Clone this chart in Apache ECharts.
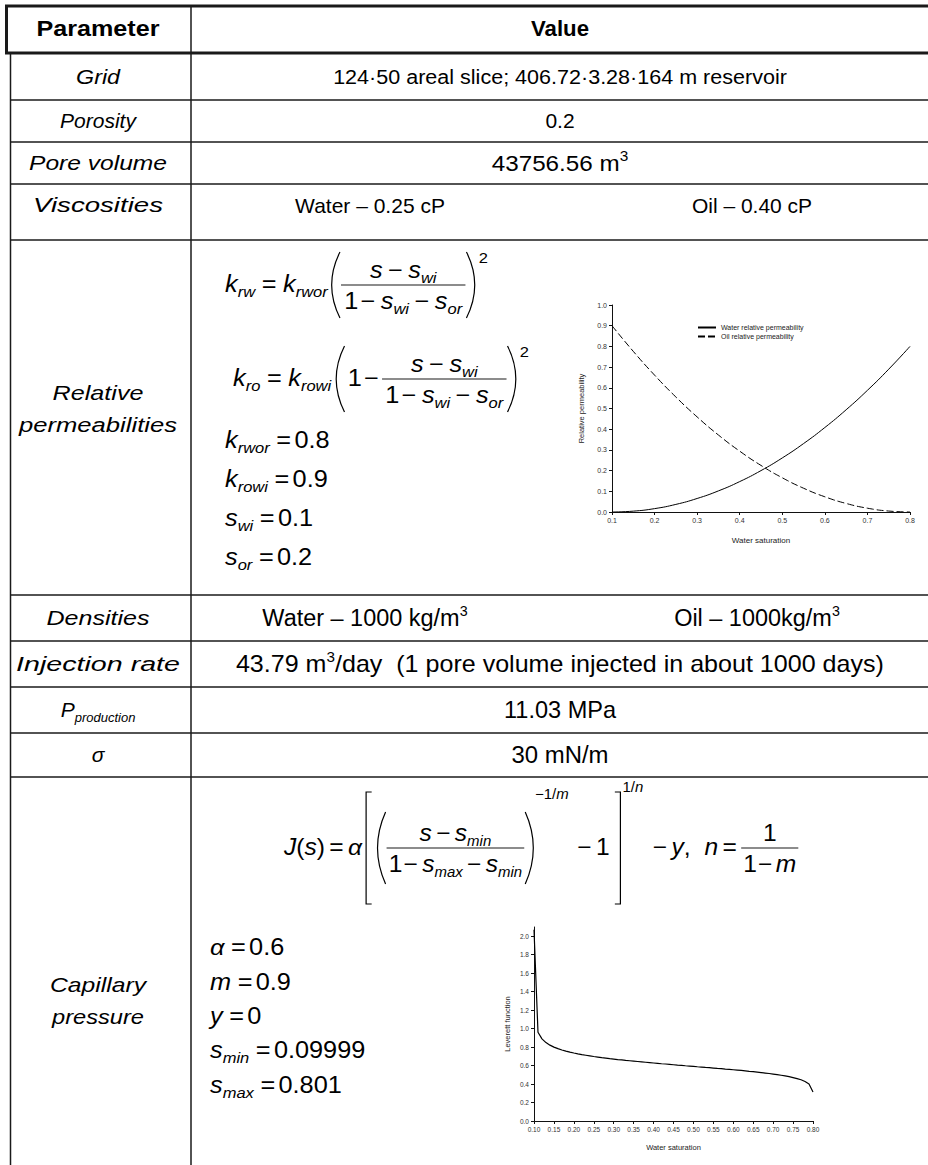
<!DOCTYPE html>
<html><head><meta charset="utf-8">
<script src="https://cdn.jsdelivr.net/npm/echarts@6/dist/echarts.min.js"></script>
<style>html,body{margin:0;padding:0;background:#fff}#c{width:928px;height:1165px}</style>
</head><body><div id="c"></div>
<script>
// ---------------- data ----------------
const relpermSaturation = [0.10,0.15,0.20,0.25,0.30,0.35,0.40,0.45,0.50,0.55,0.60,0.65,0.70,0.75,0.80];
const waterRelPerm = [0,0.0041,0.0163,0.0367,0.0653,0.1020,0.1469,0.2000,0.2612,0.3306,0.4082,0.4939,0.5878,0.6898,0.8];
const oilRelPerm = [0.9,0.7760,0.6612,0.5556,0.4592,0.3719,0.2939,0.2250,0.1653,0.1148,0.0735,0.0413,0.0184,0.0046,0];
const relpermSeriesNames = ['Water relative permeability','Oil relative permeability'];

const leverettSaturation = [0.10,0.11,0.12,0.13,0.14,0.15,0.16,0.17,0.18,0.19,0.20,0.21,0.22,0.23,0.24,0.25,0.26,0.27,0.28,0.29,0.30,0.31,0.32,0.33,0.34,0.35,0.36,0.37,0.38,0.39,0.40,0.41,0.42,0.43,0.44,0.45,0.46,0.47,0.48,0.49,0.50,0.51,0.52,0.53,0.54,0.55,0.56,0.57,0.58,0.59,0.60,0.61,0.62,0.63,0.64,0.65,0.66,0.67,0.68,0.69,0.70,0.71,0.72,0.73,0.74,0.75,0.76,0.77,0.78,0.79,0.80];
const leverettJ = [2.07,0.961,0.889,0.849,0.821,0.800,0.783,0.769,0.757,0.746,0.736,0.727,0.719,0.712,0.705,0.698,0.692,0.686,0.681,0.675,0.670,0.665,0.661,0.656,0.652,0.648,0.644,0.640,0.636,0.632,0.628,0.624,0.620,0.617,0.613,0.609,0.605,0.602,0.598,0.595,0.591,0.587,0.584,0.580,0.577,0.573,0.569,0.566,0.562,0.559,0.555,0.551,0.547,0.543,0.538,0.534,0.529,0.524,0.519,0.514,0.508,0.502,0.495,0.488,0.480,0.470,0.459,0.446,0.428,0.401,0.315];
const leverettYTicks = [0,0.2,0.4,0.6,0.8,1.0,1.2,1.4,1.6,1.8,2.0];

const tableParams = ['Grid','Porosity','Pore volume','Viscosities','Relative','permeabilities','Densities','Injection rate','P','σ','Capillary','pressure'];

// ---------------- helpers ----------------
const FONTNAME = '"Liberation Sans", Arial, Helvetica, sans-serif';
const G = [];
const mc = document.createElement('canvas').getContext('2d');
function fontStr(size, it, bold){ return (it?'italic ':'') + (bold?'bold ':'') + size + 'px ' + FONTNAME; }
function tw(s, size, it, bold){ mc.font = fontStr(size,it,bold); return mc.measureText(s).width; }
function txt(s, x, base, size, opt){
  opt = opt || {};
  const al = opt.align || 'left';
  G.push({type:'text', x:x, y: base - 0.35*size, scaleX: opt.sx || 1, silent:true, z:100,
    style:{text:s, font: fontStr(size,opt.it,opt.bold), fill:'#000', align:al, verticalAlign:'middle', textAlign:al, textVerticalAlign:'middle'}});
}
function fit(s, cx, base, size, target, opt){
  opt = Object.assign({align:'center'}, opt||{});
  opt.sx = target ? target / tw(s, size, opt.it, opt.bold) : 1;
  txt(s, cx, base, size, opt);
}
function line(x1,y1,x2,y2,w){
  G.push({type:'line', silent:true, z:90, shape:{x1,y1,x2,y2}, style:{stroke:'#1a1a1a', lineWidth:w||1.5}});
}
function curve(x1,y1,cx,cy,x2,y2){
  G.push({type:'bezierCurve', silent:true, z:90, shape:{x1,y1,x2,y2,cpx1:cx,cpy1:cy}, style:{stroke:'#000', fill:null, lineWidth:1.2}});
}
function poly(pts){
  G.push({type:'polyline', silent:true, z:90, shape:{points:pts}, style:{stroke:'#000', fill:null, lineWidth:1.2}});
}
const SZ = 23, SB = 15, AX = 7;
function T(s,size,it,dy){ return {k:'t', s, size:size||SZ, it:!!it, dy:dy||0}; }
function I(s,size){ return T(s,size||SZ,true,0); }
function sub(s,size,dy){ return T(s,size||SB,true,dy||5); }
function frac(num,den,pad){ return {k:'frac',num,den,pad:pad==null?3:pad}; }
function paren(side,h,w){ return {k:'paren',side,h,w:w||10}; }
function brack(side,h,w){ return {k:'brack',side,h,w:w||8}; }
function flow(items, x, base, draw, sx){
  sx = sx || 1;
  for (const it of items){
    if (typeof it === 'number'){ x += it*sx; continue; }
    if (it.k==='t'){ if(draw) txt(it.s, x, base+it.dy, it.size, {it:it.it, sx:sx}); x += tw(it.s, it.size, it.it)*sx; }
    else if (it.k==='frac'){
      const wn = flow(it.num,0,0,false,sx), wd = flow(it.den,0,0,false,sx);
      const W = Math.max(wn,wd) + 2*it.pad*sx;
      if (draw){
        const bar = base - AX;
        line(x, bar, x+W, bar, 1.2);
        flow(it.num, x+(W-wn)/2, bar-7, true, sx);
        flow(it.den, x+(W-wd)/2, bar+24, true, sx);
      }
      x += W;
    }
    else if (it.k==='paren'){
      const w = it.w*sx;
      if (draw){
        const c = base-AX, top=c-it.h/2, bot=c+it.h/2;
        if (it.side==='l') curve(x+w-1, top, x-w*0.6, c, x+w-1, bot);
        else curve(x+1, top, x+w*1.6, c, x+1, bot);
      }
      x += w;
    }
    else if (it.k==='brack'){
      const w = it.w*sx;
      if (draw){
        const c = base-AX, top=c-it.h/2, bot=c+it.h/2;
        if (it.side==='l') poly([[x+w-1,top],[x+2,top],[x+2,bot],[x+w-1,bot]]);
        else poly([[x+1,top],[x+w-2,top],[x+w-2,bot],[x+1,bot]]);
      }
      x += w;
    }
  }
  return x;
}
function cflow(items, cx, base, sx){ const w = flow(items,0,0,false,sx); flow(items, cx-w/2, base, true, sx); }

// ---------------- table grid ----------------
const COLX = 191, CX1 = 98, CX2 = 560;
const rowLines = [53,100,142,184,240,595,641,687,733,777];
line(5, 6, 930, 6, 3);
line(6.5, 5, 6.5, 54, 3);
line(5, 53, 930, 53, 3);
line(10.5, 54, 10.5, 1165, 1.5);
line(COLX, 5, COLX, 1165, 1.5);
rowLines.slice(1).forEach(y => line(10, y, 930, y, 1.5));

// ---------------- table text ----------------
const PF = 21;
const PI = {it:true};
fit('Parameter', CX1, 28+8, 22, 123, {bold:true});
fit('Value', CX2, 28+8, 22, 58, {bold:true});
fit(tableParams[0], CX1, 77+7, PF, 44, PI);
fit('124·50 areal slice; 406.72·3.28·164 m reservoir', CX2, 77+7, 21, 454);
fit(tableParams[1], CX1, 121+7, PF, 0, PI);
fit('0.2', CX2, 121+7, 21, 0);
fit(tableParams[2], CX1, 163+7, PF, 138, PI);
cflow([T('43756.56 m',22), T('3',14,false,-10)], CX2, 163+8, 1.1);
fit(tableParams[3], CX1, 205+7, PF, 130, PI);
fit('Water – 0.25 cP', 370, 205+8, 21, 0);
fit('Oil – 0.40 cP', 752, 205+8, 21, 0);
fit(tableParams[4], CX1, 393+7, PF, 91, PI);
fit(tableParams[5], CX1, 425+7, PF, 158, PI);
fit(tableParams[6], CX1, 618+7, PF, 103, PI);
cflow([T('Water – 1000 kg/m',23), T('3',14,false,-10)], 365, 618+8, 1.02);
cflow([T('Oil – 1000kg/m',23), T('3',14,false,-10)], 757, 618+8, 1.02);
fit(tableParams[7], CX1, 664+7, PF, 164, PI);
cflow([T('43.79 m',23), T('3',14,false,-10), T('/day \u00a0(1 pore volume injected in about 1000 days)',23)], CX2, 664+8, 1.09);
cflow([I(tableParams[8],21), sub('production',13,5)], CX1, 710+7, 1);
fit('11.03 MPa', CX2, 710+8, 23, 112);
fit(tableParams[9], CX1, 755+7, PF, 0, PI);
fit('30 mN/m', CX2, 755+8, 23, 97);
fit(tableParams[10], CX1, 985+7, PF, 96, PI);
fit(tableParams[11], CX1, 1017+7, PF, 92, PI);

// ---------------- formulas ----------------
const FX = 1.1;
const M = T('−');
const numS = [I('s'),5,M,5,I('s'),sub('wi')];
const denS = [T('1'),2,M,5,I('s'),sub('wi'),5,M,5,I('s'),sub('or')];
flow([I('k'),sub('rw'),6,T('='),6,I('k'),sub('rwor'),2,paren('l',66),frac(numS,denS,3),paren('r',66),2,T('2',15,false,-29)], 225, 292, true, FX);
flow([I('k'),sub('ro'),6,T('='),6,I('k'),sub('rowi'),3,paren('l',66),2,T('1'),2,M,3,frac(numS,denS,3),paren('r',66),2,T('2',15,false,-29)], 233, 386, true, FX);

const pr = [[ [I('k'),sub('rwor'),6,T('='),3,T('0.8')], 448],
            [ [I('k'),sub('rowi'),6,T('='),3,T('0.9')], 487],
            [ [I('s'),sub('wi'),6,T('='),3,T('0.1')], 526],
            [ [I('s'),sub('or'),6,T('='),3,T('0.2')], 565]];
pr.forEach(p => flow(p[0], 225, p[1], true, FX));

const SJ = 14;
const numJ = [I('s'),4,M,4,I('s'),sub('min',SJ)];
const denJ = [T('1'),1,M,4,I('s'),sub('max',SJ),4,M,4,I('s'),sub('min',SJ)];
flow([I('J'),T('('),I('s'),T(')'),4,T('='),4,I('α'),2,brack('l',112,8),3,paren('l',72,10),frac(numJ,denJ,2),paren('r',72,10),
      T('−1/',14,false,-56),T('m',14,true,-56),8,M,4,T('1'),4,brack('r',112,8),T('1/',14,false,-63),T('n',14,true,-63),9,M,4,I('y'),T(','),13,I('n'),4,T('='),4,
      frac([T('1')],[T('1'),1,M,3,I('m')],2)], 284, 855, true, 1.07);

const cp = [[ [I('α'),6,T('='),3,T('0.6')], 955],
            [ [I('m'),6,T('='),3,T('0.9')], 990],
            [ [I('y'),6,T('='),3,T('0')], 1024],
            [ [I('s'),sub('min'),6,T('='),3,T('0.09999')], 1058],
            [ [I('s'),sub('max'),6,T('='),3,T('0.801')], 1093]];
cp.forEach(p => flow(p[0], 210, p[1], true, FX));

// ---------------- charts ----------------
const axisCommon = () => ({
  axisLine:{show:true, onZero:false, lineStyle:{color:'#111', width:1}},
  axisTick:{show:true, inside:false, length:3, lineStyle:{color:'#111', width:1}},
  splitLine:{show:false},
  nameLocation:'middle', nameMoveOverlap:false
});
const option = {
  animation:false,
  backgroundColor:'#fff',
  grid:[
    {left:612, top:305, width:298, height:207, outerBoundsMode:'none', containLabel:false},
    {left:534, top:927, width:279, height:194, outerBoundsMode:'none', containLabel:false}
  ],
  legend:{
    data: relpermSeriesNames, left:697, top:324, orient:'vertical', itemWidth:18, itemHeight:8, itemGap:2, padding:0,
    itemStyle:{color:'rgba(0,0,0,0)', borderWidth:0, opacity:0},
    textStyle:{fontSize:7, color:'#222', fontFamily:FONTNAME}, selectedMode:false
  },
  xAxis:[
    Object.assign(axisCommon(), {gridIndex:0, type:'value', min:0.1, max:0.8, interval:0.1,
      axisLabel:{fontSize:7, color:'#333', margin:5, fontFamily:FONTNAME, formatter:v=>v.toFixed(1)},
      name:'Water saturation', nameGap:24, nameTextStyle:{fontSize:8, color:'#222', fontFamily:FONTNAME}}),
    Object.assign(axisCommon(), {gridIndex:1, type:'value', min:0.1, max:0.8, interval:0.05,
      axisLabel:{fontSize:6.5, color:'#333', margin:5, fontFamily:FONTNAME, formatter:v=>v.toFixed(2)},
      name:'Water saturation', nameGap:22, nameTextStyle:{fontSize:7.5, color:'#222', fontFamily:FONTNAME}})
  ],
  yAxis:[
    Object.assign(axisCommon(), {gridIndex:0, type:'value', min:0, max:1, interval:0.1,
      axisLabel:{fontSize:7, color:'#333', margin:5, fontFamily:FONTNAME, formatter:v=>v.toFixed(1)},
      name:'Relative permeability', nameGap:27, nameTextStyle:{fontSize:7.5, color:'#222', fontFamily:FONTNAME}}),
    Object.assign(axisCommon(), {gridIndex:1, type:'value', min:0, max:2.1, interval:0.1,
      axisTick:{show:true, length:3, customValues:leverettYTicks, lineStyle:{color:'#111'}},
      axisLabel:{fontSize:6.5, color:'#333', margin:5, fontFamily:FONTNAME, customValues:leverettYTicks, formatter:v=>v.toFixed(1)},
      name:'Leverett function', nameGap:23, nameTextStyle:{fontSize:7.5, color:'#222', fontFamily:FONTNAME}})
  ],
  series:[
    {name:relpermSeriesNames[0], type:'line', xAxisIndex:0, yAxisIndex:0, smooth:true, symbol:'none',
     lineStyle:{color:'#000', width:1}, itemStyle:{color:'rgba(0,0,0,0)'},
     data: relpermSaturation.map((s,i)=>[s, waterRelPerm[i]])},
    {name:relpermSeriesNames[1], type:'line', xAxisIndex:0, yAxisIndex:0, smooth:true, symbol:'none',
     lineStyle:{color:'#000', width:1, type:[7,3]}, itemStyle:{color:'rgba(0,0,0,0)'},
     data: relpermSaturation.map((s,i)=>[s, oilRelPerm[i]])},
    {name:'Leverett', type:'line', xAxisIndex:1, yAxisIndex:1, smooth:false, symbol:'none',
     lineStyle:{color:'#000', width:1.2}, itemStyle:{color:'#000'},
     data: leverettSaturation.map((s,i)=>[s, leverettJ[i]])}
  ],
  graphic: { elements: G }
};
const chart = echarts.init(document.getElementById('c'), null, {renderer:'svg', width:928, height:1165});
chart.setOption(option);
</script>
</body></html>
